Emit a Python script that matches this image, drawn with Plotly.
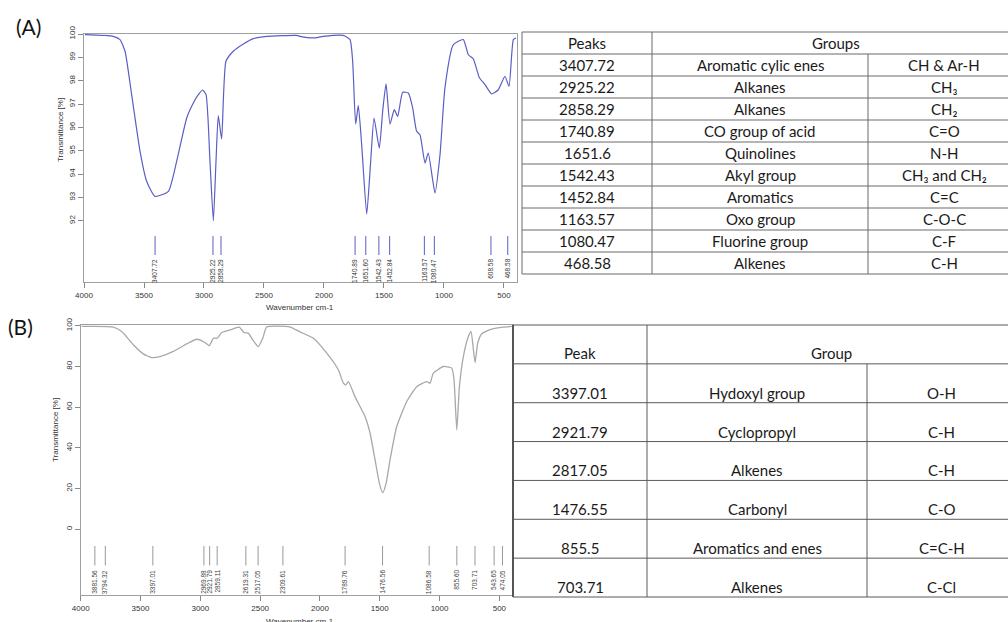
import plotly.graph_objects as go

W, H = 1008, 622

# ---------------- Panel A spectrum ----------------
a_wavenumber = [3992, 3756, 3700, 3658, 3603, 3533, 3478, 3408, 3297, 3228, 3144, 3089, 3047, 3011,
                2983, 2950, 2922, 2900, 2881, 2853, 2817, 2756, 2672, 2589, 2478, 2228, 2200, 2089,
                2006, 1839, 1783, 1761, 1736, 1714, 1686, 1644, 1611, 1583, 1539, 1511, 1483, 1450,
                1414, 1386, 1344, 1297, 1261, 1228, 1200, 1158, 1131, 1075, 1033, 992, 922, 839,
                797, 756, 706, 658, 603, 547, 492, 458, 422, 400]
a_transmittance = [99.97, 99.9, 99.76, 99.26, 97.4, 94.97, 93.69, 93.04, 93.26, 94.54, 96.4, 97.04, 97.4, 97.6,
                   97.4, 94.54, 92.0, 94.54, 96.5, 95.5, 98.83, 99.26, 99.57, 99.8, 99.9, 99.94, 99.9, 99.83,
                   99.9, 99.94, 99.76, 98.83, 96.14, 96.94, 95.26, 92.28, 94.54, 96.4, 95.11, 96.69, 97.86, 96.14,
                   96.76, 96.47, 97.5, 97.47, 96.83, 95.83, 95.68, 94.47, 94.9, 93.19, 94.83, 97.69, 99.54, 99.76,
                   99.11, 98.94, 98.14, 97.83, 97.43, 97.61, 98.19, 97.76, 99.76, 99.83]
a_peaks = [3407.72, 2925.22, 2858.29, 1740.89, 1651.60, 1542.43, 1452.84, 1163.57, 1080.47, 608.58, 468.58]

# ---------------- Panel B spectrum ----------------
b_wavenumber = [3992, 3727, 3657, 3560, 3477, 3406, 3337, 3226, 3114, 3030, 2961, 2925, 2891, 2858,
                2821, 2752, 2674, 2635, 2599, 2562, 2515, 2478, 2445, 2250, 2166, 2055, 1943, 1846,
                1804, 1784, 1762, 1707, 1623, 1581, 1539, 1503, 1475, 1447, 1414, 1358, 1274, 1191,
                1107, 1080, 1052, 968, 898, 879, 856, 834, 801, 759, 737, 717, 703, 681, 647, 564,
                467, 396]
b_transmittance = [99.7, 99.4, 97.2, 90.7, 86.2, 84.4, 84.9, 87.4, 91.1, 93.4, 91.8, 90.2, 93.9, 93.9,
                   96.7, 98.0, 99.3, 96.7, 96.4, 93.1, 89.8, 93.9, 99.4, 99.4, 97.0, 93.9, 86.6, 78.4,
                   71.8, 71.0, 72.6, 65.2, 55.4, 47.2, 34.1, 22.6, 18.0, 22.6, 34.1, 50.5, 62.8, 70.1,
                   72.6, 71.8, 76.7, 80.0, 79.2, 73.4, 48.8, 70.1, 84.9, 94.7, 97.2, 88.2, 81.9, 91.5, 96.1, 98.4,
                   99.4, 99.7]
b_peaks = [3881.56, 3794.32, 3397.01, 2969.88, 2921.79, 2859.11, 2619.31, 2517.05, 2309.61,
           1789.76, 1476.56, 1086.58, 855.60, 703.71, 543.65, 474.05]

x_ticks = [4000, 3500, 3000, 2500, 2000, 1500, 1000, 500]
a_yticks = [92, 93, 94, 95, 96, 97, 98, 99, 100]
b_yticks = [0, 20, 40, 60, 80, 100]

# ---------------- Tables ----------------
ta_header = ["Peaks", "Groups"]
ta_peaks = ["3407.72", "2925.22", "2858.29", "1740.89", "1651.6", "1542.43", "1452.84", "1163.57", "1080.47", "468.58"]
ta_groups = ["Aromatic cylic enes", "Alkanes", "Alkanes", "CO group of acid", "Quinolines", "Akyl group",
             "Aromatics", "Oxo group", "Fluorine group", "Alkenes"]
ta_bonds = ["CH & Ar-H", "CH\u2083", "CH\u2082", "C=O", "N-H", "CH\u2083 and CH\u2082", "C=C", "C-O-C", "C-F", "C-H"]

tb_header = ["Peak", "Group"]
tb_peaks = ["3397.01", "2921.79", "2817.05", "1476.55", "855.5", "703.71"]
tb_groups = ["Hydoxyl group", "Cyclopropyl", "Alkenes", "Carbonyl", "Aromatics and enes", "Alkenes"]
tb_bonds = ["O-H", "C-H", "C-H", "C-O", "C=C-H", "C-Cl"]


def px(x):
    return x / W


def py(y):
    return 1 - y / H


A_COL = "#5a5ec4"
B_COL = "#a8a8a8"
TICKF = dict(family="Liberation Sans, Arial", size=8, color="#333333")

fig = go.Figure()

fig.add_trace(go.Scatter(x=a_wavenumber, y=a_transmittance, mode="lines",
                         line=dict(color=A_COL, width=1.2, shape="spline", smoothing=0.5),
                         xaxis="x", yaxis="y", showlegend=False, hoverinfo="skip"))
mx, my = [], []
for p in a_peaks:
    mx += [p, p, None]
    my += [91.34, 90.53, None]
fig.add_trace(go.Scatter(x=mx, y=my, mode="lines", line=dict(color=A_COL, width=1),
                         xaxis="x", yaxis="y", showlegend=False, hoverinfo="skip"))

fig.add_trace(go.Scatter(x=b_wavenumber, y=b_transmittance, mode="lines",
                         line=dict(color=B_COL, width=1.3, shape="spline", smoothing=0.5),
                         xaxis="x2", yaxis="y2", showlegend=False, hoverinfo="skip"))
mx, my = [], []
for p in b_peaks:
    mx += [p, p, None]
    my += [-8.2, -17.8, None]
fig.add_trace(go.Scatter(x=mx, y=my, mode="lines", line=dict(color="#9a9a9a", width=1),
                         xaxis="x2", yaxis="y2", showlegend=False, hoverinfo="skip"))

annotations = []
for p in a_peaks:
    annotations.append(dict(x=p, y=90.45, xref="x", yref="y", text=f"{p:.2f}", showarrow=False,
                            textangle=-90, xanchor="center", yanchor="top",
                            font=dict(family="Liberation Sans, Arial", size=6.5, color="#333333")))
for p in b_peaks:
    annotations.append(dict(x=p, y=-19.0, xref="x2", yref="y2", text=f"{p:.2f}", showarrow=False,
                            textangle=-90, xanchor="center", yanchor="top",
                            font=dict(family="Liberation Sans, Arial", size=6.5, color="#444444")))


def label(x, y, text, font, angle=0):
    annotations.append(dict(x=px(x), y=py(y), xref="paper", yref="paper", text=text, showarrow=False,
                            textangle=angle, xanchor="center", yanchor="middle", font=font))


label(60, 130, "Transmittance [%]", TICKF, -90)
label(300, 308, "Wavenumber cm-1", TICKF)
label(55, 430, "Transmittance [%]", TICKF, -90)
label(300, 621, "Wavenumber cm-1", TICKF)
label(28, 26, "(A)", dict(family="Lato, Open Sans", size=21, color="#111111"))
label(20, 326, "(B)", dict(family="Lato, Open Sans", size=21, color="#111111"))

shapes = []
TF = dict(family="Lato, Open Sans", size=15, color="#1a1a1a")


def hline(x0, x1, y, color, w=1):
    shapes.append(dict(type="line", xref="paper", yref="paper", x0=px(x0), x1=px(x1), y0=py(y), y1=py(y),
                       line=dict(color=color, width=w)))


def vline(x, y0, y1, color, w=1):
    shapes.append(dict(type="line", xref="paper", yref="paper", x0=px(x), x1=px(x), y0=py(y0), y1=py(y1),
                       line=dict(color=color, width=w)))


def cell(x, y, text):
    label(x, y, text, TF)


# Table A
L, C1, C2, R = 522, 652, 868, 1020
T0, rh = 32, 22
nrows = len(ta_peaks) + 1
tc = "#6a6a6a"
for i in range(nrows + 1):
    hline(L, R, T0 + i * rh, tc)
vline(L, T0, T0 + nrows * rh, tc)
vline(C1, T0, T0 + nrows * rh, tc)
vline(C2, T0 + rh, T0 + nrows * rh, tc)
cell((L + C1) / 2, T0 + rh / 2, ta_header[0])
cell((C1 + R) / 2, T0 + rh / 2, ta_header[1])
for i in range(len(ta_peaks)):
    yc = T0 + (i + 1) * rh + rh / 2
    cell((L + C1) / 2, yc, ta_peaks[i])
    cell((C1 + C2) / 2, yc, ta_groups[i])
    cell((C2 + R) / 2, yc, ta_bonds[i])

# Table B
L, C1, C2, R = 513, 647, 867, 1016
T0, B0 = 325, 597
nrows = len(tb_peaks) + 1
rh = (B0 - T0) / nrows
tc = "#5a5a5a"
for i in range(nrows + 1):
    hline(L, R, T0 + i * rh, tc)
vline(L, T0, B0, "#555555", 2)
vline(C1, T0, B0, tc)
vline(C2, T0 + rh, B0, tc)
cell((L + C1) / 2, T0 + rh - 11, tb_header[0])
cell((C1 + R) / 2, T0 + rh - 11, tb_header[1])
for i in range(len(tb_peaks)):
    yc = T0 + (i + 2) * rh - 10
    cell((L + C1) / 2, yc, tb_peaks[i])
    cell((C1 + C2) / 2, yc, tb_groups[i])
    cell((C2 + R) / 2, yc, tb_bonds[i])

frame = "#a0a0a0"
axcommon = dict(showgrid=False, zeroline=False, showline=True, mirror=True, linecolor=frame, linewidth=1,
                ticks="outside", ticklen=5, tickcolor="#888888", tickfont=TICKF, automargin=False)

fig.update_layout(
    width=W, height=H, margin=dict(l=0, r=0, t=0, b=0, pad=0, autoexpand=False),
    paper_bgcolor="white", plot_bgcolor="white",
    xaxis=dict(domain=[px(84), px(516.7)], range=[4000, 394], tickvals=x_ticks, anchor="y", **axcommon),
    yaxis=dict(domain=[py(282.3), py(34)], range=[89.36, 100.0], tickvals=a_yticks, tickangle=-90,
               anchor="x", **axcommon),
    xaxis2=dict(domain=[px(80.7), px(513)], range=[4000, 386], tickvals=x_ticks, anchor="y2", **axcommon),
    yaxis2=dict(domain=[py(595), py(325)], range=[-32.3, 100.4], tickvals=b_yticks, tickangle=-90,
                anchor="x2", **axcommon),
    annotations=annotations, shapes=shapes,
)

fig.write_html("out.html", config={"displayModeBar": False},
               post_script="document.body.style.margin='0';document.body.style.overflow='hidden';")
